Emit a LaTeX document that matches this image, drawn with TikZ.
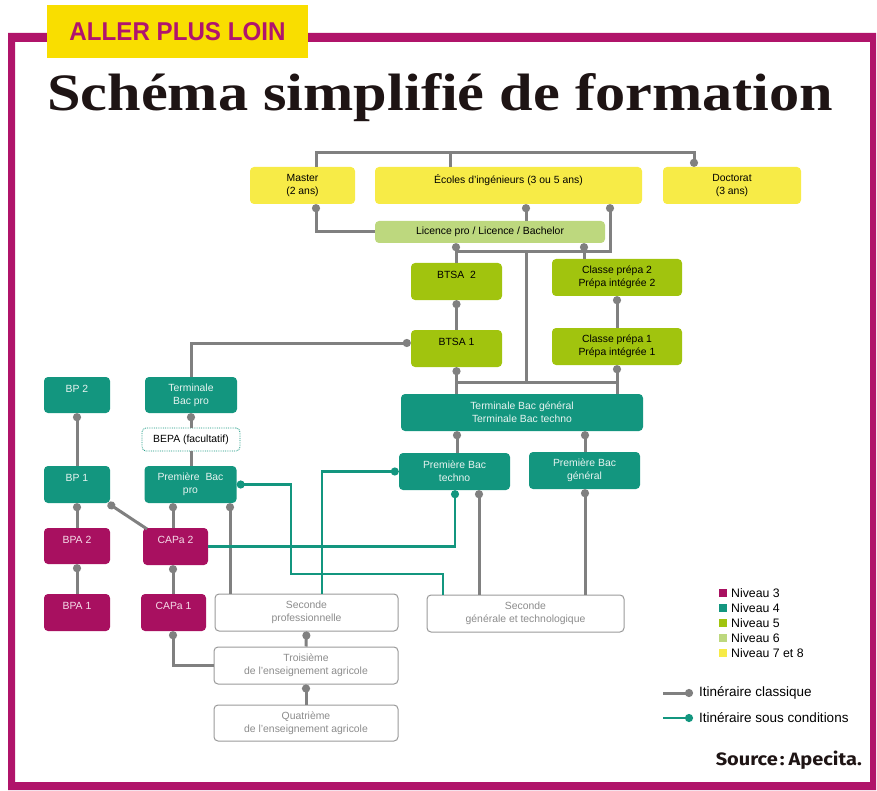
\documentclass[tikz,border=0pt]{standalone}
\usepackage{fontspec}
\setmainfont{Liberation Sans}
\newfontfamily\titlefont{Liberation Serif}
\newfontfamily\srcfont{Fira Sans}
\usetikzlibrary{arrows.meta}
\definecolor{cFrame}{HTML}{B0146A}
\definecolor{cLab}{HTML}{F9DE00}
\definecolor{cLabTxt}{HTML}{B0146E}
\definecolor{cY}{HTML}{F7EB47}
\definecolor{cLG}{HTML}{BDD87E}
\definecolor{cG}{HTML}{A1C40E}
\definecolor{cT}{HTML}{13967F}
\definecolor{cM}{HTML}{A81060}
\definecolor{cGray}{HTML}{808080}
\definecolor{cWB}{HTML}{9A9A9A}
\definecolor{cWT}{HTML}{8C8C8C}
\definecolor{cTT}{HTML}{E8F4F1}
\definecolor{cMT}{HTML}{F5DDE9}
\definecolor{cTitle}{HTML}{1E1414}
\tikzset{
  wh/.style 2 args={minimum width=#1,minimum height=#2},
  box/.style={rounded corners=4pt, inner sep=0pt, align=center, font=\fontsize{10.4}{13}\selectfont},
  ybox/.style={box, fill=cY, text=black},
  lgbox/.style={box, fill=cLG, text=black},
  gbox/.style={box, fill=cG, text=black},
  tbox/.style={box, fill=cT, text=cTT},
  mbox/.style={box, fill=cM, text=cMT},
  wbox/.style={box, draw=cWB, line width=1pt, fill=white, text=cWT},
  dbox/.style={box, draw=cT, densely dotted, line width=0.8pt, fill=white, text=black},
  gl/.style={draw=cGray, line width=3pt},
  tl/.style={draw=cT, line width=2.5pt},
  sq/.style={inner sep=0pt, minimum size=8pt},
  legt/.style={anchor=west, inner sep=0pt, font=\fontsize{12.3}{14}\selectfont, text=black},
  legl/.style={anchor=west, inner sep=0pt, font=\fontsize{13.5}{15}\selectfont, text=black}
}
\begin{document}
\begin{tikzpicture}[x=1pt,y=-1pt,>={Circle[length=8pt,width=8pt]}]
\useasboundingbox (0,0) rectangle (877,791);
% frame
\fill[cFrame, even odd rule] (8,33) rectangle (876,790) (15,42) rectangle (870,782);
\node[fill=cLab, inner sep=0pt, wh={261}{53}] (lab) at (177.5,31.5)
  {\raisebox{-2.5pt}{\color{cLabTxt}\resizebox{216pt}{18pt}{\bfseries ALLER PLUS LOIN}}};
\node[anchor=base west, inner sep=0pt, text=cTitle] (title) at (47,111)
  {\resizebox{786pt}{37pt}{\titlefont\bfseries Schéma simplifié de formation}};

% top level
\node[ybox, wh={105}{37}] (master) at (302.5,185.5) {Master\\(2 ans)};
\node[ybox, wh={267}{37}] (ecoles) at (508.5,185.5) {Écoles d'ingénieurs (3 ou 5 ans)\\\mbox{}};
\node[ybox, wh={138}{37}] (doct) at (732,185.5) {Doctorat\\(3 ans)};
\node[lgbox, wh={230}{22}] (lic) at (490,232) {Licence pro / Licence / Bachelor};
\node[gbox, wh={91}{37}] (btsa2) at (456.5,281.5) {BTSA\ \ 2\\\mbox{}};
\node[gbox, wh={91}{37}] (btsa1) at (456.5,348.5) {BTSA 1\\\mbox{}};
\node[gbox, wh={130}{37}] (prepa2) at (617,277.5) {Classe prépa 2\\Prépa intégrée 2};
\node[gbox, wh={130}{37}] (prepa1) at (617,346.5) {Classe prépa 1\\Prépa intégrée 1};
\node[tbox, wh={242}{37}] (term) at (522,412.5) {Terminale Bac général\\Terminale Bac techno};
\node[tbox, wh={111}{37}] (ptech) at (454.5,471.5) {Première Bac\\techno};
\node[tbox, wh={111}{37}] (pgen) at (584.5,470.5) {Première Bac\\général};
\node[wbox, wh={197}{37}] (sgt) at (525.5,613.5) {Seconde\\générale et technologique};

% left
\node[tbox, wh={66}{36}] (bp2) at (77,395) {BP 2\\\mbox{}};
\node[tbox, wh={92}{36}] (tbpro) at (191,395) {Terminale\\Bac pro};
\node[dbox, wh={98}{23}] (bepa) at (191,439.5) {BEPA (facultatif)};
\node[tbox, wh={66}{37}] (bp1) at (77,484.5) {BP 1\\\mbox{}};
\node[tbox, wh={92}{37}] (ppro) at (190.5,484.5) {Première\ \ Bac\\pro};
\node[mbox, wh={66}{36}] (bpa2) at (77,546) {BPA 2\\\mbox{}};
\node[mbox, wh={65}{37}] (capa2) at (175.5,546.5) {CAPa 2\\\mbox{}};
\node[mbox, wh={66}{37}] (bpa1) at (77,612.5) {BPA 1\\\mbox{}};
\node[mbox, wh={65}{37}] (capa1) at (173.5,612.5) {CAPa 1\\\mbox{}};
\node[wbox, wh={183}{37}] (spro) at (306.5,612.5) {Seconde\\professionnelle};
\node[wbox, wh={184}{37}] (trois) at (306,665.5) {Troisième\\de l'enseignement agricole};
\node[wbox, wh={184}{36}] (quat) at (306,723) {Quatrième\\de l'enseignement agricole};

% top connectors
\draw[gl,->] (316,0 |- master.north) -- (316,153) -- (694,153) -- (694,0 |- doct.north);
\draw[gl] (450,153) -- (450,0 |- ecoles.north);
\draw[gl,<-] (316,0 |- master.south) |- (lic.west);
\draw[gl,<-] (526,0 |- ecoles.south) -- (526,0 |- lic.north);
\draw[gl,<-] (610,0 |- ecoles.south) |- (456,252);
\draw[gl] (526,252) -- (526,382);
\draw[gl,<-] (456,0 |- lic.south) -- (456,0 |- btsa2.north);
\draw[gl,<-] (584,0 |- lic.south) -- (584,0 |- prepa2.north);
\draw[gl,<-] (btsa2.south) -- (btsa1.north);
\draw[gl,<-] (btsa1.west |- 0,343) -| (tbpro.north);
\draw[gl,<-] (btsa1.south) -- (456.5,0 |- term.north);
\draw[gl] (456.5,382) -- (617,382);
\draw[gl,<-] (prepa2.south) -- (prepa1.north);
\draw[gl,<-] (prepa1.south) -- (617,0 |- term.north);
\draw[gl,<-] (457,0 |- term.south) -- (457,0 |- ptech.north);
\draw[gl,<-] (585,0 |- term.south) -- (585,0 |- pgen.north);
\draw[gl,<-] (585,0 |- pgen.south) -- (585,0 |- sgt.north);
\draw[gl,<-] (479,0 |- ptech.south) -- (479,0 |- sgt.north);

% left connectors
\draw[gl,<-] (tbpro.south) -- (bepa.north);
\draw[gl] (bepa.south) -- (191,0 |- ppro.north);
\draw[gl,<-] (bp2.south) -- (bp1.north);
\draw[gl,<-] (bp1.south) -- (bpa2.north);
\draw[gl,<-] (108,0 |- bp1.south) -- (147,529);
\draw[gl,<-] (bpa2.south) -- (bpa1.north);
\draw[gl,<-] (173,0 |- ppro.south) -- (173,0 |- capa2.north);
\draw[gl,<-] (230,0 |- ppro.south) -- (230,0 |- spro.north);
\draw[gl,<-] (173,0 |- capa2.south) -- (173,0 |- capa1.north);
\draw[gl,<-] (173,0 |- capa1.south) |- (trois.west);
\draw[gl,<-] (spro.south) -- (trois.north);
\draw[gl,<-] (trois.south) -- (quat.north);

% teal connectors
\draw[tl,<-] (455,0 |- ptech.south) |- (capa2.east);
\draw[tl,<-] (ptech.west) -| (322,0 |- spro.north);
\draw[tl,<-] (ppro.east) -| (291,574) -| (443,0 |- sgt.north);

% legend
\node[sq, fill=cM] (s3) at (723,593) {};
\node[legt] (t3) at (731,593) {Niveau 3};
\node[sq, fill=cT] (s4) at (723,608) {};
\node[legt] (t4) at (731,608) {Niveau 4};
\node[sq, fill=cG] (s5) at (723,623) {};
\node[legt] (t5) at (731,623) {Niveau 5};
\node[sq, fill=cLG] (s6) at (723,638) {};
\node[legt] (t6) at (731,638) {Niveau 6};
\node[sq, fill=cY] (s7) at (723,653) {};
\node[legt] (t7) at (731,653) {Niveau 7 et 8};
\coordinate (lg1) at (663,693);
\coordinate (lg1e) at (693,693);
\node[legl] (lt1) at (699,693) {Itinéraire classique};
\draw[gl,->] (lg1) -- (lg1e);
\coordinate (lg2) at (663,718);
\coordinate (lg2e) at (693,718);
\node[legl] (lt2) at (699,718) {Itinéraire sous conditions};
\draw[tl,->] (lg2) -- (lg2e);
\node[anchor=base east, inner sep=0pt, text=cTitle] (src) at (862,765)
  {\resizebox{146pt}{14.5pt}{\srcfont\bfseries Source\kern1pt:\kern2pt Apecita.}};
\end{tikzpicture}
\end{document}
